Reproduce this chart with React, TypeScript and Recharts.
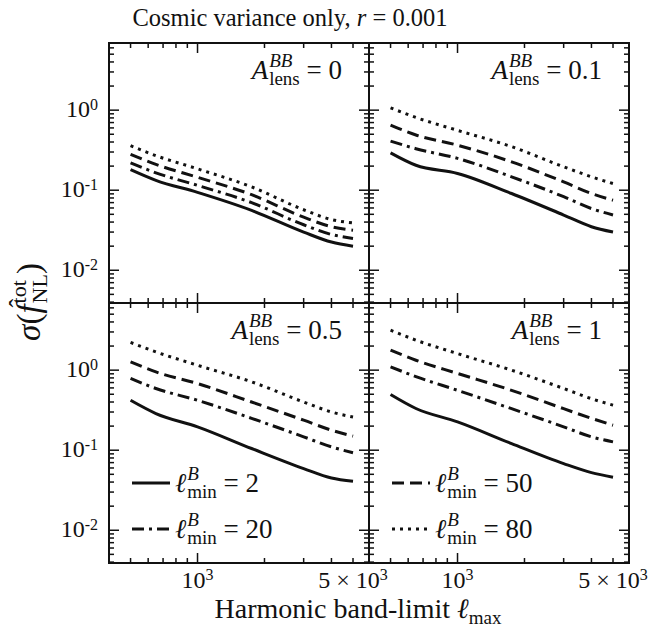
import React from 'react';
import { LineChart, Line, XAxis, YAxis, Legend } from 'recharts';

// harmonic band-limit values where the curves are sampled
const ELL = [500, 650, 1000, 1750, 3000, 4000, 5000];

// A_lens^BB = 0
const lens0_s2 = [0.181, 0.133, 0.094, 0.056, 0.030, 0.0225, 0.020];
const lens0_s20 = [0.22, 0.165, 0.115, 0.07, 0.037, 0.028, 0.025];
const lens0_s50 = [0.28, 0.21, 0.145, 0.088, 0.046, 0.035, 0.0316];
const lens0_s80 = [0.36, 0.27, 0.185, 0.11, 0.057, 0.043, 0.039];

// A_lens^BB = 0.1
const lens01_s2 = [0.293, 0.205, 0.162, 0.091, 0.049, 0.035, 0.030];
const lens01_s20 = [0.41, 0.33, 0.25, 0.147, 0.083, 0.059, 0.049];
const lens01_s50 = [0.65, 0.49, 0.365, 0.226, 0.127, 0.091, 0.075];
const lens01_s80 = [1.07, 0.81, 0.56, 0.35, 0.196, 0.147, 0.121];

// A_lens^BB = 0.5
const lens05_s2 = [0.42, 0.287, 0.196, 0.105, 0.059, 0.045, 0.041];
const lens05_s20 = [0.787, 0.59, 0.42, 0.25, 0.147, 0.11, 0.093];
const lens05_s50 = [1.27, 0.95, 0.68, 0.40, 0.237, 0.178, 0.15];
const lens05_s80 = [2.22, 1.69, 1.15, 0.715, 0.40, 0.30, 0.26];

// A_lens^BB = 1
const lens1_s2 = [0.496, 0.332, 0.226, 0.121, 0.068, 0.0525, 0.046];
const lens1_s20 = [1.10, 0.83, 0.56, 0.33, 0.196, 0.147, 0.127];
const lens1_s50 = [1.78, 1.33, 0.91, 0.56, 0.33, 0.25, 0.205];
const lens1_s80 = [3.16, 2.37, 1.61, 1.0, 0.59, 0.44, 0.365];

const X_TICKS = [500, 600, 700, 800, 900, 1000, 2000, 3000, 4000, 5000];
const Y_TICKS = [
  0.004, 0.005, 0.006, 0.007, 0.008, 0.009,
  0.01, 0.02, 0.03, 0.04, 0.05, 0.06, 0.07, 0.08, 0.09,
  0.1, 0.2, 0.3, 0.4, 0.5, 0.6, 0.7, 0.8, 0.9,
  1, 2, 3, 4, 5, 6,
];
const X_LABELS: Record<string, [string, string]> = { '1000': ['10', '3'], '5000': ['5 × 10', '3'] };
const Y_LABELS: Record<string, [string, string]> = { '0.01': ['10', '-2'], '0.1': ['10', '-1'], '1': ['10', '0'] };

const SERIES = [
  { key: 's2', lmin: '2', dash: undefined as string | undefined },
  { key: 's20', lmin: '20', dash: '12 5 3 5' },
  { key: 's50', lmin: '50', dash: '12 6' },
  { key: 's80', lmin: '80', dash: '3 5' },
];

const FONT = '"Liberation Serif", "Times New Roman", "DejaVu Serif", serif';
const INK = '#111';
const PW = 260;
const PH = 260;
const ML = 100;
const MT = 10;
const MR = 60;
const MB = 40;

const build = (s2: number[], s20: number[], s50: number[], s80: number[]) =>
  ELL.map((ell, i) => ({ ell, s2: s2[i], s20: s20[i], s50: s50[i], s80: s80[i] }));

const Stack = ({ sup, sub, supItalic, size = 19 }: { sup: string; sub: string; supItalic?: boolean; size?: number }) => (
  <span
    style={{
      display: 'inline-flex',
      flexDirection: 'column',
      fontSize: size,
      lineHeight: `${size - 1}px`,
      verticalAlign: `${Math.round(size * 0.63)}px`,
      marginLeft: 1,
    }}
  >
    <span style={{ fontStyle: supItalic ? 'italic' : 'normal' }}>{sup}</span>
    <span>{sub}</span>
  </span>
);

const tickText = { fontFamily: FONT, fontSize: 24 };

const makeXTick = (showLabels: boolean) => (props: any) => {
  const { x, y, payload } = props;
  const v = payload.value;
  const len = v === 1000 ? 10 : 5;
  const lab = X_LABELS[String(v)];
  return (
    <g>
      <line x1={x} y1={y} x2={x} y2={y - len} stroke={INK} strokeWidth={1.5} />
      <line x1={x} y1={y - PH} x2={x} y2={y - PH + len} stroke={INK} strokeWidth={1.5} />
      {showLabels && lab && (
        <text x={x} y={y + 25} textAnchor="middle" style={tickText} fill={INK}>
          {lab[0]}
          <tspan dy={-8} style={{ fontSize: 16 }}>{lab[1]}</tspan>
        </text>
      )}
    </g>
  );
};

const makeYTick = (showLabels: boolean) => (props: any) => {
  const { x, y, payload } = props;
  const v = payload.value;
  const lab = Y_LABELS[String(v)];
  const len = lab ? 10 : 5;
  return (
    <g>
      <line x1={x} y1={y} x2={x + len} y2={y} stroke={INK} strokeWidth={1.5} />
      <line x1={x + PW} y1={y} x2={x + PW - len} y2={y} stroke={INK} strokeWidth={1.5} />
      {showLabels && lab && (
        <text x={x - 11} y={y + 7} textAnchor="end" style={tickText} fill={INK}>
          {lab[0]}
          <tspan dy={-7} style={{ fontSize: 16 }}>{lab[1]}</tspan>
        </text>
      )}
    </g>
  );
};

interface PanelProps {
  data: any[];
  left: number;
  top: number;
  lens: string;
  showX: boolean;
  showY: boolean;
  legendKeys?: string[];
}

const Panel: React.FC<PanelProps> = ({ data, left, top, lens, showX, showY, legendKeys }) => {
  const legendContent = () => (
    <div style={{ fontFamily: FONT, color: INK }}>
      {SERIES.filter((s) => legendKeys?.includes(s.key)).map((s) => (
        <div key={s.key} style={{ display: 'flex', alignItems: 'center', height: 46 }}>
          <svg width={38} height={6}>
            <line x1={0} y1={3} x2={38} y2={3} stroke={INK} strokeWidth={3} strokeDasharray={s.dash} />
          </svg>
          <span style={{ marginLeft: 5, fontSize: 27, lineHeight: '46px', whiteSpace: 'nowrap' }}>
            <i>ℓ</i>
            <Stack sup="B" sub="min" supItalic />
            {' = '}
            {s.lmin}
          </span>
        </div>
      ))}
    </div>
  );

  return (
    <>
      <div style={{ position: 'absolute', left: left - ML, top: top - MT }}>
        <LineChart
          width={PW + ML + MR}
          height={PH + MT + MB}
          data={data}
          margin={{ top: MT, right: MR, bottom: MB - 1, left: ML - 1 }}
        >
          <XAxis
            dataKey="ell"
            type="number"
            scale="log"
            domain={[400, 5900]}
            allowDataOverflow
            ticks={X_TICKS}
            interval={0}
            height={1}
            tickSize={0}
            tickMargin={0}
            axisLine={false}
            tickLine={false}
            tick={makeXTick(showX)}
          />
          <YAxis
            type="number"
            scale="log"
            domain={[0.0039, 6.9]}
            allowDataOverflow
            ticks={Y_TICKS}
            interval={0}
            width={1}
            tickSize={0}
            tickMargin={0}
            axisLine={false}
            tickLine={false}
            tick={makeYTick(showY)}
          />
          {SERIES.map((s) => (
            <Line
              key={s.key}
              dataKey={s.key}
              type="monotone"
              stroke={INK}
              strokeWidth={3}
              strokeDasharray={s.dash}
              dot={false}
              isAnimationActive={false}
            />
          ))}
          {legendKeys && (
            <Legend
              layout="vertical"
              align="center"
              verticalAlign="middle"
              content={legendContent}
              wrapperStyle={{ left: 123, top: 167, width: 'auto' }}
            />
          )}
        </LineChart>
      </div>
      <div
        style={{
          position: 'absolute',
          left: left - 1,
          top: top - 1,
          width: PW + 2,
          height: PH + 2,
          boxSizing: 'border-box',
          border: `2px solid ${INK}`,
          pointerEvents: 'none',
        }}
      />
      <div
        style={{
          position: 'absolute',
          right: 648 - (left + PW - 27),
          top: top + 36 - 29.5,
          fontFamily: FONT,
          fontSize: 27,
          lineHeight: '40px',
          whiteSpace: 'nowrap',
          color: INK,
        }}
      >
        <i>A</i>
        <Stack sup="BB" sub="lens" supItalic />
        {' = '}
        {lens}
      </div>
    </>
  );
};

export default function App() {
  return (
    <div
      style={{
        position: 'absolute',
        left: 0,
        top: 0,
        width: 648,
        height: 635,
        overflow: 'hidden',
        background: '#fff',
        fontFamily: FONT,
        color: INK,
      }}
    >
      <div
        style={{
          position: 'absolute',
          left: 290,
          top: 5,
          transform: 'translateX(-50%)',
          fontSize: 24.5,
          lineHeight: '26px',
          whiteSpace: 'nowrap',
        }}
      >
        Cosmic variance only, <i>r</i>
        {' = '}0.001
      </div>

      <Panel data={build(lens0_s2, lens0_s20, lens0_s50, lens0_s80)} left={109} top={43} lens="0" showX={false} showY />
      <Panel data={build(lens01_s2, lens01_s20, lens01_s50, lens01_s80)} left={369} top={43} lens="0.1" showX={false} showY={false} />
      <Panel
        data={build(lens05_s2, lens05_s20, lens05_s50, lens05_s80)}
        left={109}
        top={303}
        lens="0.5"
        showX
        showY
        legendKeys={['s2', 's20']}
      />
      <Panel
        data={build(lens1_s2, lens1_s20, lens1_s50, lens1_s80)}
        left={369}
        top={303}
        lens="1"
        showX
        showY={false}
        legendKeys={['s50', 's80']}
      />

      <div
        style={{
          position: 'absolute',
          left: 29,
          top: 302,
          transform: 'translate(-50%, -50%) rotate(-90deg)',
          fontSize: 33,
          lineHeight: '50px',
          whiteSpace: 'nowrap',
        }}
      >
        <i>σ</i>(
        <span style={{ position: 'relative', display: 'inline-block' }}>
          <i>f</i>
          <span style={{ position: 'absolute', left: 6, top: -10, fontSize: 26 }}>ˆ</span>
        </span>
        <Stack sup="tot" sub="NL" size={22} />)
      </div>

      <div
        style={{
          position: 'absolute',
          left: 358,
          top: 595,
          transform: 'translateX(-50%)',
          fontSize: 28,
          lineHeight: '28px',
          whiteSpace: 'nowrap',
        }}
      >
        Harmonic band-limit <i>ℓ</i>
        <span style={{ fontSize: 19, position: 'relative', top: 6 }}>max</span>
      </div>
    </div>
  );
}
